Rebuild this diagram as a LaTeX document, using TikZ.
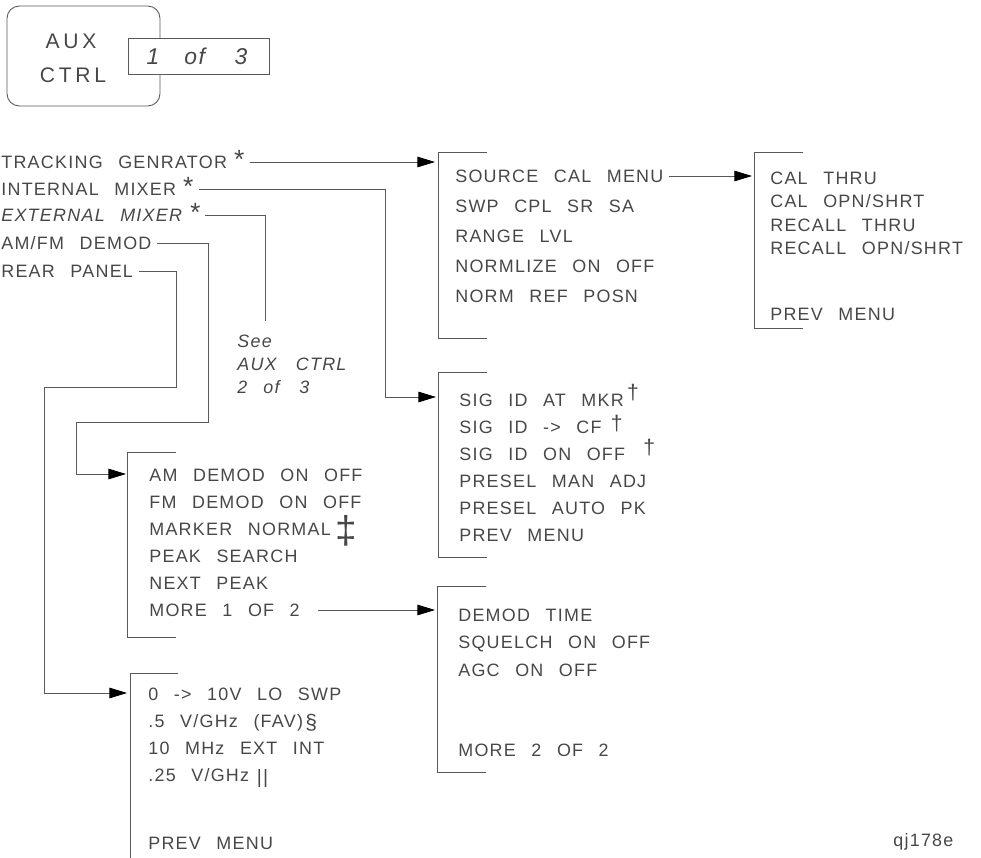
\documentclass[tikz,border=0pt]{standalone}
\usepackage{fontspec}
\newfontfamily\hpfont[LetterSpace=7,WordSpace=2.5]{Liberation Sans}
\newfontfamily\hpkeyfont[LetterSpace=18,WordSpace=2]{Liberation Sans}
\usetikzlibrary{arrows.meta,positioning}

\newcommand\menufont{\hpfont\fontsize{10.2}{12}\selectfont}
\newcommand\bigast{{\fontsize{15}{15}\selectfont *}}

\tikzset{
	menutext/.style={anchor=west, inner sep=0pt, text height=7pt, text depth=0pt, font=\menufont, text=black!72},
	symb/.style={inner sep=0pt, text=black!72},
	link/.style={draw=black!65, line width=0.5pt},
	linkarrow/.style={link, -{Triangle[length=10pt,width=6pt,color=black]}},
	bracket/.style={draw=black!65, line width=0.5pt},
}

\begin{document}
\begin{tikzpicture}[x=0.02cm, y=-0.02cm]
	\newcommand\armlen{49};
	\newcommand\menubracket[3]{\draw[bracket] (#1+\armlen,#2) -- (#1,#2) -- (#1,#3) -- (#1+\armlen,#3);}

	\useasboundingbox (0,0) rectangle (981,858);

	% key
	\draw[bracket, rounded corners=7pt] (7,6) rectangle (160,106);
	\node[font=\hpkeyfont\fontsize{12}{14}\selectfont, text=black!72] (aux) at (71,41) {AUX};
	\node[font=\hpkeyfont\fontsize{12}{14}\selectfont, text=black!72] (ctrl) at (73,75) {CTRL};
	\filldraw[bracket, fill=white] (128,38) rectangle (269,74);
	\node[font=\hpfont\itshape\fontsize{13}{14}\selectfont, text=black!72] (pageno) at (197,56) {1\hspace{1.1em}of\hspace{1.3em}3};

	% softkeys
	\node[menutext] (trk) at (1,162) {TRACKING GENRATOR\hspace{4pt}\bigast};
	\node[menutext] (intmix) at (1,189) {INTERNAL MIXER\hspace{4pt}\bigast};
	\node[menutext, font=\menufont\itshape] (extmix) at (1,215) {EXTERNAL MIXER\hspace{4pt}\bigast};
	\node[menutext] (amfm) at (1,243) {AM/FM DEMOD};
	\node[menutext] (rear) at (1,271) {REAR PANEL};

	% source cal
	\menubracket{438}{152}{338}
	\foreach \txt [count=\i] in {SOURCE CAL MENU, SWP CPL SR SA, RANGE LVL, NORMLIZE ON OFF, NORM REF POSN} {
		\node[menutext] (src\i) at (455,146+30*\i) {\txt};
	}

	% cal
	\menubracket{754}{152}{328}
	\foreach \txt [count=\i] in {CAL THRU, CAL OPN/SHRT, RECALL THRU, RECALL OPN/SHRT} {
		\node[menutext] (cal\i) at (770,155+23.3*\i) {\txt};
	}
	\node[menutext] (calprev) at (770,314) {PREV MENU};

	% signal id
	\menubracket{438}{372}{557}
	\foreach \txt [count=\i] in {SIG ID AT MKR, SIG ID -> CF, SIG ID ON OFF, PRESEL MAN ADJ, PRESEL AUTO PK, PREV MENU} {
		\node[menutext] (sig\i) at (459,373+27*\i) {\txt};
	}
	\node[symb, font=\hpfont\fontsize{12}{12}\selectfont, right=1.5pt of sig1, yshift=4pt] (dag1) {\textdagger};
	\node[symb, font=\hpfont\fontsize{12}{12}\selectfont, right=5pt of sig2, yshift=2pt] (dag2) {\textdagger};
	\node[symb, font=\hpfont\fontsize{12}{12}\selectfont, right=10pt of sig3, yshift=3.7pt] (dag3) {\textdagger};

	% demod
	\menubracket{127}{452}{637}
	\foreach \txt [count=\i] in {AM DEMOD ON OFF, FM DEMOD ON OFF, MARKER NORMAL, PEAK SEARCH, NEXT PEAK, MORE 1 OF 2} {
		\node[menutext] (dem\i) at (149,448+27*\i) {\txt};
	}
	\node[symb, font=\hpfont\fontsize{22}{22}\selectfont, right=2pt of dem3, yshift=-1pt] (ddag) {\textdaggerdbl};

	\menubracket{437}{586}{772}
	\foreach \txt [count=\i] in {DEMOD TIME, SQUELCH ON OFF, AGC ON OFF} {
		\node[menutext] (dmt\i) at (458,587.5+27.5*\i) {\txt};
	}
	\node[menutext] (dmtmore) at (458,750) {MORE 2 OF 2};

	% rear panel
	\draw[bracket] (178,673) -- (130,673) -- (130,870);
	\foreach \txt [count=\i] in {0 -> 10V LO SWP, .5 V/GHz (FAV), 10 MHz EXT INT, .25 V/GHz} {
		\node[menutext] (rp\i) at (148,667+27*\i) {\txt};
	}
	\node[menutext] (rpprev) at (148,843) {PREV MENU};
	\node[symb, font=\hpfont\fontsize{12}{12}\selectfont, right=1pt of rp2, yshift=-1pt] (sect) {\S};
	\node[symb, font=\hpfont\fontsize{11}{11}\selectfont, right=4pt of rp4, yshift=-2pt] (dbar) {||};

	% see other page
	\node[menutext, font=\menufont\itshape] (see1) at (237,341) {See};
	\node[menutext, font=\menufont\itshape] (see2) at (237,364) {AUX\hspace{0.2em} CTRL};
	\node[menutext, font=\menufont\itshape] (see3) at (237,387) {2\hspace{0.9em}of\hspace{1.1em}3};

	\node[menutext, anchor=north west] (figid) at (893,834) {qj178e};

	% connectors
	\coordinate (srcin) at (435,163);
	\coordinate (calin) at (752,176);
	\coordinate (sigin) at (436,397);
	\coordinate (demin) at (126,474);
	\coordinate (dmtin) at (435,607);
	\coordinate (rpin) at (127,693);
	\coordinate (seeend) at (265,321);

	\draw[linkarrow] ([xshift=3pt]trk.east) -- (trk.east -| srcin);
	\draw[linkarrow] ([xshift=3pt]intmix.east) -| (385,397) -- (sigin);
	\draw[link] ([xshift=3pt]extmix.east) -| (seeend);
	\draw[linkarrow] ([xshift=3pt]amfm.east) -| (208,422) -| (76,474) -- (demin);
	\draw[linkarrow] ([xshift=3pt]rear.east) -| (176,387) -| (44,693) -- (rpin);
	\draw[linkarrow] ([xshift=3pt]src1.east) -- (src1.east -| calin);
	\draw[linkarrow] ([xshift=10pt]dem6.east) -- (dem6.east -| dmtin);
\end{tikzpicture}
\end{document}
